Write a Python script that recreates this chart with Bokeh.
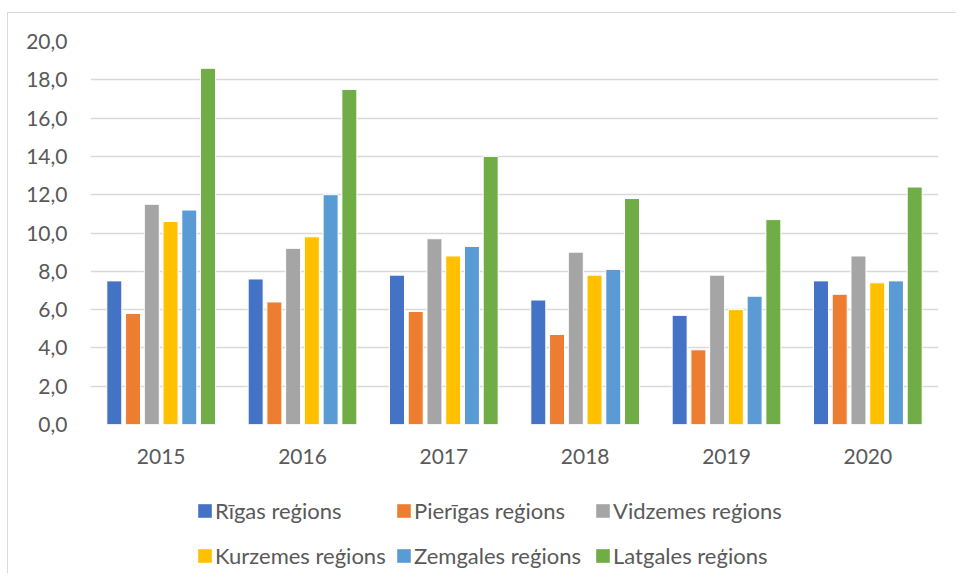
from bokeh.plotting import figure
from bokeh.layouts import column
from bokeh.models import (ColumnDataSource, FactorRange, Range1d, FixedTicker,
                          CustomJSTickFormatter, Legend, LegendItem)
from bokeh.transform import dodge
from bokeh.embed import file_html
from bokeh.resources import INLINE

years = ["2015", "2016", "2017", "2018", "2019", "2020"]
regions = ["Rīgas reģions", "Pierīgas reģions", "Vidzemes reģions",
           "Kurzemes reģions", "Zemgales reģions", "Latgales reģions"]
riga = [7.5, 7.6, 7.8, 6.5, 5.7, 7.5]
pieriga = [5.8, 6.4, 5.9, 4.7, 3.9, 6.8]
vidzeme = [11.5, 9.2, 9.7, 9.0, 7.8, 8.8]
kurzeme = [10.6, 9.8, 8.8, 7.8, 6.0, 7.4]
zemgale = [11.2, 12.0, 9.3, 8.1, 6.7, 7.5]
latgale = [18.6, 17.5, 14.0, 11.8, 10.7, 12.4]
y_ticks = [0, 2, 4, 6, 8, 10, 12, 14, 16, 18, 20]

colors = ["#4472C4", "#ED7D31", "#A5A5A5", "#FFC000", "#5B9BD5", "#70AD47"]
cols = ["riga", "pieriga", "vidzeme", "kurzeme", "zemgale", "latgale"]

src = ColumnDataSource(dict(year=years, riga=riga, pieriga=pieriga, vidzeme=vidzeme,
                            kurzeme=kurzeme, zemgale=zemgale, latgale=latgale))

FONT = "Lato"
TXT = "#595959"
BORDER = "1px solid #D9D9D9"

p = figure(width=949, height=461, output_backend="svg", toolbar_location=None,
           x_range=FactorRange(factors=years, range_padding=0),
           y_range=Range1d(0, 20),
           min_border_left=82, min_border_right=19, min_border_top=28, min_border_bottom=50)
p.outline_line_color = None
p.styles = {"border-top": BORDER, "border-left": BORDER, "margin-top": "12px", "margin-left": "7px"}

pitch = 0.1326
renderers = []
for i, (c, col) in enumerate(zip(cols, colors)):
    r = p.vbar(x=dodge("year", (i - 2.5) * pitch, range=p.x_range), top=c, width=0.106,
               source=src, fill_color=col, line_color="white", line_width=1)
    renderers.append(r)

p.xgrid.grid_line_color = None
p.ygrid.grid_line_color = "#D9D9D9"
p.ygrid.grid_line_width = 1.5
p.yaxis.ticker = FixedTicker(ticks=y_ticks)
p.yaxis.formatter = CustomJSTickFormatter(code="return tick.toFixed(1).replace('.', ',');")

for ax in (p.xaxis[0], p.yaxis[0]):
    ax.axis_line_color = None
    ax.major_tick_line_color = None
    ax.minor_tick_line_color = None
    ax.major_label_text_font = FONT
    ax.major_label_text_font_size = "21px"
    ax.major_label_text_color = TXT
p.yaxis.major_label_standoff = 17
p.xaxis.major_label_standoff = 18

# legend panel: its swatches come from the same data, drawn outside the visible range
q = figure(width=949, height=100, output_backend="svg", toolbar_location=None,
           x_range=FactorRange(factors=years, range_padding=0), y_range=Range1d(100, 101),
           x_axis_location=None, y_axis_location=None,
           min_border_left=0, min_border_right=0, min_border_top=0, min_border_bottom=0)
q.grid.visible = False
q.outline_line_color = None
q.styles = {"border-left": BORDER, "margin-left": "7px"}

dummies = [q.vbar(x="year", top=c, width=0.1, source=src, fill_color=col,
                  line_color=None) for c, col in zip(cols, colors)]

for row, vy in ((0, 49), (1, 4)):
    items = [LegendItem(label=regions[k], renderers=[dummies[k]]) for k in range(row * 3, row * 3 + 3)]
    lg = Legend(items=items, location=(106, vy), orientation="horizontal",
                glyph_width=17, glyph_height=17, label_standoff=2, label_width=180,
                spacing=0, padding=0, margin=0, border_line_color=None,
                background_fill_alpha=0, label_text_font=FONT, label_text_font_size="22px",
                label_text_color=TXT, label_height=17)
    q.add_layout(lg, "center")

layout = column(p, q, spacing=0)
open("out.html", "w").write(file_html(layout, INLINE))
